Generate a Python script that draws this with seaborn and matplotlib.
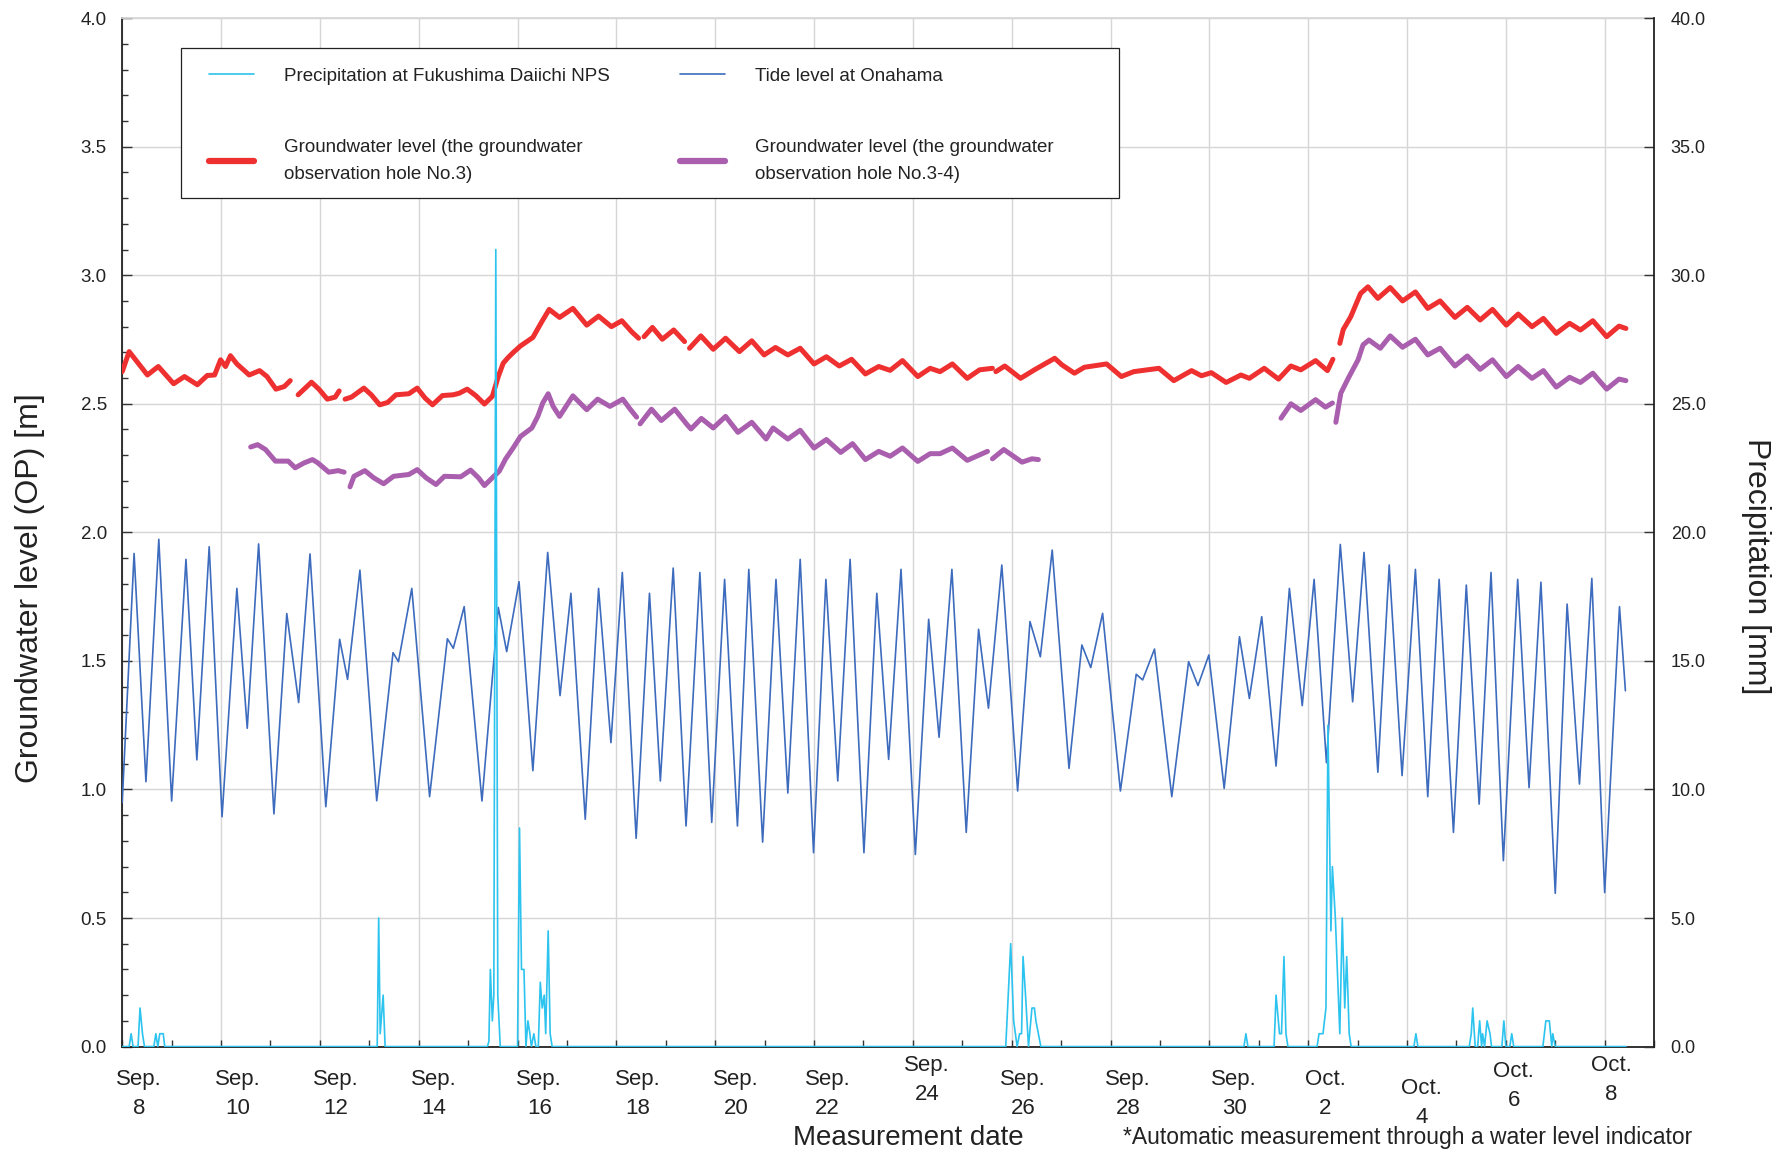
import numpy as np
import pandas as pd
import seaborn as sns
import matplotlib.pyplot as plt
from matplotlib.lines import Line2D
from matplotlib.patches import Rectangle
from matplotlib.ticker import MultipleLocator, FormatStrFormatter

# x values are days elapsed since Sep. 8 00:00 (axis runs to Oct. 9 00:00)

# tide level at Onahama [m], highs and lows
tide_day = [0.00, 0.24, 0.48, 0.74, 1.00, 1.29, 1.51, 1.76, 2.02, 2.32, 2.53, 2.76, 3.07, 3.33, 3.57, 3.80,
            4.12, 4.40, 4.56, 4.81, 5.15, 5.48, 5.59, 5.86, 6.22, 6.58, 6.70, 6.92, 7.28, 7.61, 7.78, 8.03,
            8.31, 8.61, 8.86, 9.08, 9.37, 9.64, 9.89, 10.12, 10.40, 10.67, 10.89, 11.15, 11.41, 11.69, 11.93,
            12.19, 12.45, 12.68, 12.96, 13.23, 13.47, 13.72, 13.99, 14.24, 14.48, 14.73, 15.01, 15.27, 15.51,
            15.76, 16.05, 16.32, 16.53, 16.79, 17.08, 17.33, 17.53, 17.80, 18.12, 18.37, 18.58, 18.82, 19.16,
            19.42, 19.60, 19.84, 20.20, 20.52, 20.65, 20.89, 21.24, 21.58, 21.77, 21.99, 22.30, 22.61, 22.81,
            23.06, 23.35, 23.62, 23.88, 24.12, 24.37, 24.65, 24.90, 25.13, 25.41, 25.64, 25.90, 26.17, 26.42,
            26.65, 26.94, 27.20, 27.46, 27.70, 27.95, 28.24, 28.47, 28.71, 29.00, 29.24, 29.49, 29.74, 30.00,
            30.30, 30.42]
tide_level = [0.95, 1.918, 1.03, 1.973, 0.955, 1.895, 1.115, 1.944, 0.894, 1.782, 1.238, 1.955, 0.905, 1.684,
              1.338, 1.916, 0.933, 1.584, 1.428, 1.853, 0.956, 1.532, 1.497, 1.782, 0.972, 1.586, 1.549, 1.711,
              0.955, 1.708, 1.536, 1.808, 1.073, 1.922, 1.365, 1.763, 0.884, 1.782, 1.182, 1.844, 0.81, 1.763,
              1.033, 1.861, 0.858, 1.844, 0.872, 1.817, 0.858, 1.856, 0.795, 1.817, 0.986, 1.895, 0.754, 1.817,
              1.033, 1.895, 0.754, 1.763, 1.117, 1.856, 0.747, 1.662, 1.203, 1.856, 0.833, 1.623, 1.316, 1.873,
              0.994, 1.653, 1.516, 1.931, 1.082, 1.562, 1.474, 1.685, 0.994, 1.448, 1.426, 1.546, 0.972, 1.497,
              1.404, 1.523, 1.004, 1.594, 1.354, 1.672, 1.091, 1.782, 1.326, 1.817, 1.104, 1.953, 1.341, 1.922,
              1.067, 1.873, 1.054, 1.856, 0.972, 1.817, 0.833, 1.795, 0.943, 1.844, 0.723, 1.817, 1.007, 1.806,
              0.596, 1.721, 1.021, 1.821, 0.599, 1.711, 1.384]

# groundwater level, observation hole No.3 [m] (one list per unbroken stretch)
gw3_day = [
    [0.00, 0.14, 0.51, 0.73, 1.04, 1.26, 1.52, 1.72, 1.87, 1.99, 2.09, 2.19, 2.32, 2.57, 2.78, 2.93, 3.11, 3.28, 3.40],
    [3.56, 3.83, 3.98, 4.15, 4.31, 4.39],
    [4.51, 4.64, 4.89, 5.04, 5.21, 5.37, 5.54, 5.80, 5.97, 6.13, 6.28, 6.48, 6.70, 6.82, 6.98, 7.16, 7.33, 7.49,
     7.61, 7.71, 7.81, 7.91, 8.06, 8.31, 8.49, 8.64, 8.85, 9.12, 9.40, 9.64, 9.90, 10.11, 10.31, 10.45],
    [10.56, 10.73, 10.93, 11.16, 11.38],
    [11.48, 11.71, 11.96, 12.21, 12.49, 12.74, 12.99, 13.22, 13.47, 13.72, 14.00, 14.25, 14.51, 14.76, 15.04,
     15.31, 15.54, 15.79, 16.10, 16.35, 16.55, 16.80, 17.10, 17.35, 17.61],
    [17.68, 17.86, 18.18, 18.46, 18.87, 19.02, 19.27, 19.47, 19.92, 20.22, 20.47, 20.98, 21.28, 21.64, 21.84,
     22.04, 22.34, 22.64, 22.81, 23.11, 23.40, 23.65, 23.85, 24.15, 24.39, 24.50],
    [24.64, 24.71, 24.86, 25.06, 25.21, 25.41, 25.66, 25.91, 26.17, 26.42, 26.67, 26.97, 27.22, 27.48, 27.73,
     28.01, 28.25, 28.53, 28.76, 29.02, 29.29, 29.51, 29.76, 30.04, 30.29, 30.43],
]
gw3_level = [
    [2.625, 2.703, 2.612, 2.645, 2.578, 2.606, 2.574, 2.610, 2.612, 2.671, 2.645, 2.687, 2.655, 2.612, 2.629,
     2.606, 2.557, 2.567, 2.590],
    [2.535, 2.584, 2.557, 2.518, 2.526, 2.550],
    [2.518, 2.526, 2.561, 2.535, 2.496, 2.505, 2.535, 2.539, 2.561, 2.522, 2.496, 2.532, 2.535, 2.541, 2.557,
     2.531, 2.499, 2.529, 2.606, 2.658, 2.680, 2.699, 2.725, 2.758, 2.819, 2.867, 2.836, 2.871, 2.806, 2.841,
     2.800, 2.823, 2.780, 2.755],
    [2.761, 2.797, 2.751, 2.787, 2.742],
    [2.716, 2.764, 2.712, 2.755, 2.703, 2.745, 2.690, 2.719, 2.690, 2.716, 2.655, 2.683, 2.647, 2.673, 2.616,
     2.645, 2.630, 2.668, 2.606, 2.638, 2.625, 2.655, 2.599, 2.632, 2.638],
    [2.625, 2.647, 2.599, 2.632, 2.677, 2.651, 2.619, 2.642, 2.655, 2.606, 2.625, 2.638, 2.590, 2.629, 2.609,
     2.621, 2.583, 2.612, 2.599, 2.638, 2.596, 2.647, 2.632, 2.668, 2.629, 2.673],
    [2.735, 2.789, 2.838, 2.929, 2.955, 2.910, 2.952, 2.900, 2.935, 2.871, 2.900, 2.836, 2.875, 2.826, 2.867,
     2.806, 2.849, 2.800, 2.832, 2.774, 2.813, 2.787, 2.823, 2.761, 2.802, 2.793],
]

# groundwater level, observation hole No.3-4 [m]
gw34_day = [
    [2.60, 2.74, 2.90, 3.10, 3.36, 3.50, 3.68, 3.85, 3.96, 4.18, 4.37, 4.49],
    [4.61, 4.69, 4.91, 5.09, 5.29, 5.49, 5.80, 5.97, 6.15, 6.35, 6.52, 6.85, 7.05, 7.21, 7.33, 7.51, 7.63, 7.76,
     7.91, 8.06, 8.29, 8.41, 8.51, 8.62, 8.72, 8.85, 9.12, 9.40, 9.62, 9.87, 10.13, 10.28, 10.41],
    [10.48, 10.71, 10.91, 11.18, 11.43, 11.51, 11.72, 11.96, 12.21, 12.46, 12.74, 13.03, 13.17, 13.47, 13.72,
     14.00, 14.25, 14.54, 14.78, 15.04, 15.31, 15.54, 15.79, 16.10, 16.35, 16.55, 16.80, 17.10, 17.51],
    [17.61, 17.84, 18.21, 18.41, 18.54],
    [23.45, 23.65, 23.85, 24.15, 24.35, 24.49],
    [24.56, 24.66, 24.81, 25.01, 25.11, 25.23, 25.46, 25.66, 25.91, 26.17, 26.42, 26.67, 26.97, 27.22, 27.48,
     27.73, 28.01, 28.25, 28.53, 28.76, 29.02, 29.29, 29.51, 29.76, 30.04, 30.29, 30.43],
]
gw34_level = [
    [2.332, 2.341, 2.322, 2.277, 2.277, 2.251, 2.270, 2.283, 2.270, 2.234, 2.240, 2.234],
    [2.177, 2.218, 2.240, 2.212, 2.189, 2.218, 2.225, 2.244, 2.212, 2.186, 2.218, 2.216, 2.242, 2.212, 2.182,
     2.216, 2.238, 2.286, 2.328, 2.373, 2.406, 2.451, 2.503, 2.539, 2.490, 2.451, 2.531, 2.477, 2.518, 2.490,
     2.518, 2.479, 2.448],
    [2.422, 2.479, 2.435, 2.479, 2.419, 2.402, 2.443, 2.406, 2.451, 2.389, 2.428, 2.363, 2.406, 2.363, 2.397,
     2.328, 2.361, 2.311, 2.345, 2.283, 2.315, 2.296, 2.328, 2.276, 2.306, 2.306, 2.328, 2.280, 2.315],
    [2.286, 2.322, 2.273, 2.286, 2.283],
    [2.444, 2.500, 2.474, 2.516, 2.487, 2.503],
    [2.428, 2.541, 2.599, 2.671, 2.729, 2.748, 2.716, 2.764, 2.720, 2.751, 2.690, 2.716, 2.647, 2.686, 2.634,
     2.671, 2.606, 2.645, 2.599, 2.629, 2.565, 2.603, 2.583, 2.619, 2.557, 2.596, 2.590],
]

# precipitation at Fukushima Daiichi NPS [mm]
rain_day = [0.00, 0.14, 0.18, 0.22, 0.32, 0.36, 0.41, 0.45, 0.64, 0.68, 0.72, 0.76, 0.83, 0.86,
            5.16, 5.19, 5.22, 5.28, 5.32,
            7.39, 7.42, 7.45, 7.49, 7.52, 7.56, 7.60, 7.65,
            8.00, 8.04, 8.08, 8.13, 8.17, 8.21, 8.25, 8.28, 8.33, 8.37, 8.42, 8.46, 8.50, 8.54, 8.57, 8.62, 8.66, 8.70,
            17.88, 17.98, 18.04, 18.11, 18.16, 18.20, 18.23, 18.28, 18.34, 18.41, 18.46, 18.49, 18.54, 18.59,
            22.70, 22.74, 22.78,
            23.31, 23.35, 23.42, 23.46, 23.51, 23.55, 23.59,
            24.18, 24.22, 24.30, 24.36, 24.40, 24.46, 24.49, 24.55, 24.64, 24.69, 24.74, 24.78, 24.83, 24.87,
            26.14, 26.18, 26.22,
            27.26, 27.30, 27.33, 27.38, 27.43, 27.47, 27.51, 27.53, 27.57, 27.62, 27.68, 27.71, 27.92, 27.96, 28.00,
            28.08, 28.12, 28.16,
            28.75, 28.81, 28.88, 28.93, 28.95, 29.00,
            30.43]
rain_mm = [0, 0, 0.5, 0, 0, 1.5, 0.5, 0, 0, 0.5, 0, 0.5, 0.5, 0,
           0, 5.0, 0.5, 2.0, 0,
           0, 0.2, 3.0, 1.0, 2.0, 31.0, 2.0, 0,
           0, 8.5, 3.0, 3.0, 0, 1.0, 0.5, 0, 0.5, 0, 0, 2.5, 1.5, 2.0, 0.5, 4.5, 0.5, 0,
           0, 4.0, 1.0, 0, 0.5, 0.5, 3.5, 2.0, 0, 1.5, 1.5, 1.0, 0.5, 0,
           0, 0.5, 0,
           0, 2.0, 0.5, 0.5, 3.5, 0.5, 0,
           0, 0.5, 0.5, 1.5, 12.5, 4.5, 7.0, 5.0, 0.5, 5.0, 1.5, 3.5, 0.5, 0,
           0, 0.5, 0,
           0, 0.5, 1.5, 0, 0, 1.0, 0, 0.5, 0, 1.0, 0.5, 0, 0, 1.0, 0,
           0, 0.5, 0,
           0, 1.0, 1.0, 0, 0.5, 0,
           0]

date_labels = ['Sep.\n8', 'Sep.\n10', 'Sep.\n12', 'Sep.\n14', 'Sep.\n16', 'Sep.\n18', 'Sep.\n20', 'Sep.\n22',
               'Sep.\n24', 'Sep.\n26', 'Sep.\n28', 'Sep.\n30', 'Oct.\n2', 'Oct.\n4', 'Oct.\n6', 'Oct.\n8']
date_label_day = [0.34, 2.33, 4.32, 6.31, 8.44, 10.43, 12.42, 14.27, 16.29, 18.23, 20.36, 22.5, 24.34, 26.3,
                  28.16, 30.14]
# the labels are text boxes sitting at slightly different heights (px below the axis)
date_label_drop = [22, 22, 22, 22, 22, 22, 22, 22, 8, 22, 22, 22, 22, 31, 14, 8]


def segments_frame(days, levels):
    rows = []
    for seg, (d, v) in enumerate(zip(days, levels)):
        for x, y in zip(d, v):
            rows.append((seg, x, y))
    return pd.DataFrame(rows, columns=['seg', 'day', 'level'])


tide_df = pd.DataFrame({'day': tide_day, 'level': tide_level})
gw3_df = segments_frame(gw3_day, gw3_level)
gw34_df = segments_frame(gw34_day, gw34_level)
rain_df = pd.DataFrame({'day': rain_day, 'mm': rain_mm})

sns.set_theme(style='white')
plt.rcParams['font.family'] = ['Liberation Sans', 'DejaVu Sans']

c_tide = '#3d6bbd'
c_rain = '#2cc3ef'
c_gw3 = '#ee3030'
c_gw34 = '#a95fae'

fig = plt.figure(figsize=(17.74, 11.54), dpi=100)
ax = fig.add_axes([0.0689, 0.0931, 0.8635, 0.8912])

sns.lineplot(data=tide_df, x='day', y='level', color=c_tide, lw=1.2, ax=ax, zorder=3)
sns.lineplot(data=gw3_df, x='day', y='level', units='seg', estimator=None, color=c_gw3,
             lw=3.6, solid_capstyle='round', ax=ax, zorder=4)
sns.lineplot(data=gw34_df, x='day', y='level', units='seg', estimator=None, color=c_gw34,
             lw=3.6, solid_capstyle='round', ax=ax, zorder=4)

ax.set_xlim(0, 31)
ax.set_ylim(0, 4.0)
ax.xaxis.set_major_locator(MultipleLocator(2))
ax.xaxis.set_minor_locator(MultipleLocator(1))
ax.yaxis.set_major_locator(MultipleLocator(0.5))
ax.yaxis.set_minor_locator(MultipleLocator(0.1))
ax.yaxis.set_major_formatter(FormatStrFormatter('%.1f'))
ax.grid(True, which='major', color='#d6d6d6', lw=1.0)
ax.set_axisbelow(True)
ax.tick_params(axis='x', which='both', direction='in', length=5, width=1, color='#333333',
               labelbottom=False, bottom=True)
ax.tick_params(axis='y', which='major', direction='in', length=7, width=1, color='#333333',
               labelsize=13.5, pad=11, left=True, labelcolor='#222222')
ax.tick_params(axis='y', which='minor', direction='in', length=4, width=1, color='#333333', left=True)
ax.set_xlabel('')
ax.set_ylabel('')
for s in ['left', 'bottom']:
    ax.spines[s].set_color('#222222')
    ax.spines[s].set_linewidth(1.3)
ax.spines['top'].set_color('#d6d6d6')
ax.spines['right'].set_visible(False)

ax2 = ax.twinx()
sns.lineplot(data=rain_df, x='day', y='mm', color=c_rain, lw=1.2, ax=ax2, zorder=5)
ax2.set_ylim(0, 40)
ax2.yaxis.set_major_locator(MultipleLocator(5))
ax2.yaxis.set_major_formatter(FormatStrFormatter('%.1f'))
ax2.tick_params(axis='y', direction='in', length=7, width=1, color='#333333', labelsize=13, pad=12,
                labelcolor='#222222')
ax2.set_ylabel('')
ax2.set_xlabel('')
ax2.spines['right'].set_color('#222222')
ax2.spines['right'].set_linewidth(1.3)
ax2.spines['top'].set_visible(False)
ax2.spines['left'].set_visible(False)
ax2.spines['bottom'].set_visible(False)

# date labels under the axis
ax_h_px = 0.8912 * 1154
for lab, d, drop in zip(date_labels, date_label_day, date_label_drop):
    ax.text(d, -drop / ax_h_px, lab, transform=ax.get_xaxis_transform(), ha='center', va='top',
            fontsize=16, linespacing=1.5, color='#222222')

# legend box
ax2.add_patch(Rectangle((0.0384, 0.825), 0.612, 0.146, transform=ax2.transAxes, facecolor='white',
                        edgecolor='#222222', lw=0.9, zorder=8))
handles = [Line2D([], [], color=c_rain, lw=1.2),
           Line2D([], [], color=c_gw3, lw=4.5),
           Line2D([], [], color=c_tide, lw=1.2),
           Line2D([], [], color=c_gw34, lw=4.5)]
labels = ['Precipitation at Fukushima Daiichi NPS',
          'Groundwater level (the groundwater\nobservation hole No.3)',
          'Tide level at Onahama',
          'Groundwater level (the groundwater\nobservation hole No.3-4)']
leg = ax2.legend(handles, labels, ncol=2, loc='upper left', bbox_to_anchor=(0.0569, 0.952),
                 frameon=False, fontsize=13.5, handlelength=2.4, handletextpad=1.6, columnspacing=3.7,
                 labelspacing=2.9, borderpad=0, borderaxespad=0)
for t in leg.get_texts():
    t.set_linespacing(1.8)
    t.set_color('#222222')
leg.set_zorder(9)

fig.text(30.5 / 1774, 0.4905, 'Groundwater level (OP) [m]', rotation=90, ha='center', va='center',
         fontsize=23, color='#222222')
fig.text(1756 / 1774, 0.5095, 'Precipitation [mm]', rotation=-90, ha='center', va='center',
         fontsize=23, color='#222222')
fig.text(908 / 1774, 1 - 1138 / 1154, 'Measurement date', ha='center', va='center', fontsize=20,
         color='#222222')
fig.text(1123 / 1774, 1 - 1126 / 1154, '*Automatic measurement through a water level indicator',
         ha='left', va='top', fontsize=16.5, color='#222222')

fig.savefig('out.png', dpi=100)
